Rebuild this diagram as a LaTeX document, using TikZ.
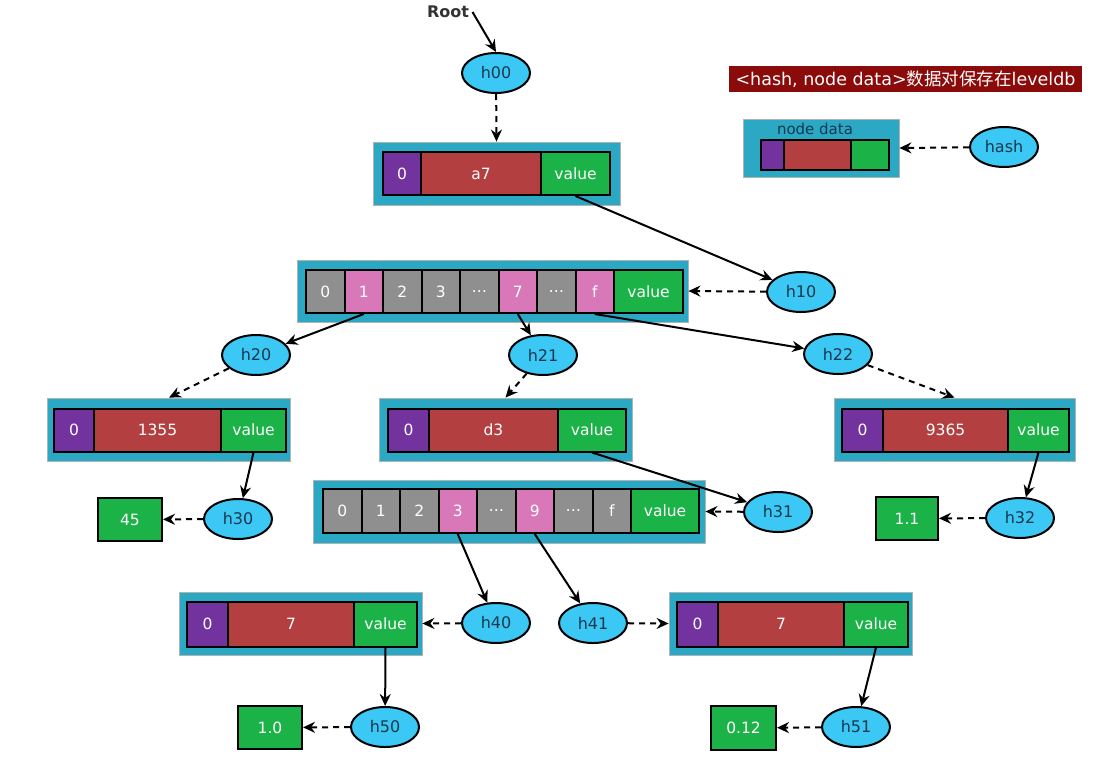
\documentclass[tikz,border=0pt]{standalone}
\usepackage{fontspec}
\setmainfont{DejaVu Sans}
\newfontfamily\cjkfont{Noto Sans CJK SC}
\usetikzlibrary{arrows.meta,shapes.geometric}

\definecolor{boxcyan}{HTML}{2BA8C4}
\definecolor{hashcyan}{HTML}{3CC8F4}
\definecolor{hashtext}{HTML}{17384F}
\definecolor{cellpurple}{HTML}{73339E}
\definecolor{cellred}{HTML}{B43F40}
\definecolor{cellgreen}{HTML}{1BB347}
\definecolor{cellgray}{HTML}{8F8F8F}
\definecolor{cellpink}{HTML}{D978B8}
\definecolor{bannerred}{HTML}{8B0A0A}

\tikzset{
  outerbox/.style={draw=black!30,line width=0.8pt,fill=boxcyan,inner sep=0pt},
  cell/.style={draw=black,line width=2pt,text=white,inner sep=0pt,anchor=west,
    minimum height=43pt,font=\fontsize{15.5}{17}\selectfont},
  hexcell/.style={cell,minimum width=38.5pt},
  leaf/.style={draw=black,line width=2pt,fill=cellgreen,text=white,inner sep=0pt,
    minimum width=64pt,minimum height=43pt,font=\fontsize{15.5}{17}\selectfont},
  hashnode/.style={ellipse,draw=black,line width=2pt,fill=hashcyan,text=hashtext,
    minimum width=68pt,minimum height=40pt,inner sep=0pt,font=\fontsize{16}{18}\selectfont},
  edge/.style={line width=2pt,-{Stealth[length=12pt,width=11pt,inset=4pt]}},
  ptr/.style={edge,dash pattern=on 6pt off 5pt},
}

\begin{document}
\begin{tikzpicture}[x=1pt,y=-1pt]
  \useasboundingbox[fill=white] (0,0) rectangle (1108,758);

  % root
  \node[font=\bfseries\fontsize{16}{18}\selectfont,text=black!80] (root) at (448,12) {Root};
  \node[hashnode] (h00) at (496,73) {h00};

  % level 1
  \node[outerbox,minimum width=247pt,minimum height=63pt] (b1) at (496.5,173.5) {};
  \node[cell,fill=cellpurple,minimum width=38pt] (b1p) at (382,173.5) {0};
  \node[cell,fill=cellred,minimum width=120pt] (b1k) at (420,173.5) {a7};
  \node[cell,fill=cellgreen,minimum width=69pt] (b1v) at (540,173.5) {value};
  \node[hashnode] (h10) at (801,292) {h10};

  % level 2, branch
  \node[outerbox,minimum width=391pt,minimum height=62pt] (b2) at (492.5,291) {};
  \foreach \t/\c [count=\i from 0] in {0/cellgray,1/cellpink,2/cellgray,3/cellgray,
      {\ldots}/cellgray,7/cellpink,{\ldots}/cellgray,f/cellpink}
    \node[hexcell,fill=\c] (b2c\i) at ({305+38.5*\i},291.5) {\t};
  \node[cell,fill=cellgreen,minimum width=69pt] (b2v) at (613,291.5) {value};
  \node[hashnode] (h20) at (256,355) {h20};
  \node[hashnode] (h21) at (543,355) {h21};
  \node[hashnode] (h22) at (838,354) {h22};

  % level 3
  \node[outerbox,minimum width=243pt,minimum height=63pt] (b3) at (169,429.5) {};
  \node[cell,fill=cellpurple,minimum width=40pt] (b3p) at (53,430) {0};
  \node[cell,fill=cellred,minimum width=127pt] (b3k) at (93,430) {1355};
  \node[cell,fill=cellgreen,minimum width=65pt] (b3v) at (220,430) {value};

  \node[outerbox,minimum width=253pt,minimum height=63pt] (b4) at (505.5,429.5) {};
  \node[cell,fill=cellpurple,minimum width=41pt] (b4p) at (387,430) {0};
  \node[cell,fill=cellred,minimum width=129pt] (b4k) at (428,430) {d3};
  \node[cell,fill=cellgreen,minimum width=68pt] (b4v) at (557,430) {value};

  \node[outerbox,minimum width=241pt,minimum height=63pt] (b5) at (954.5,429.5) {};
  \node[cell,fill=cellpurple,minimum width=41pt] (b5p) at (841,430) {0};
  \node[cell,fill=cellred,minimum width=125pt] (b5k) at (882,430) {9365};
  \node[cell,fill=cellgreen,minimum width=61pt] (b5v) at (1007,430) {value};

  \node[hashnode] (h30) at (238,519) {h30};
  \node[hashnode] (h31) at (778,512) {h31};
  \node[hashnode] (h32) at (1020,518) {h32};
  \node[leaf] (l45) at (130,519.5) {45};
  \node[leaf,minimum width=62pt] (l11) at (907,518.5) {1.1};

  % level 4, branch
  \node[outerbox,minimum width=392pt,minimum height=63pt] (b6) at (509,511.5) {};
  \foreach \t/\c [count=\i from 0] in {0/cellgray,1/cellgray,2/cellgray,3/cellpink,
      {\ldots}/cellgray,9/cellpink,{\ldots}/cellgray,f/cellgray}
    \node[hexcell,fill=\c,minimum height=44pt] (b6c\i) at ({322+38.5*\i},511) {\t};
  \node[cell,fill=cellgreen,minimum width=68pt,minimum height=44pt] (b6v) at (630,511) {value};
  \node[hashnode] (h40) at (496,623) {h40};
  \node[hashnode] (h41) at (593,623) {h41};

  % level 5
  \node[outerbox,minimum width=243pt,minimum height=63pt] (b7) at (300.5,623.5) {};
  \node[cell,fill=cellpurple,minimum width=41pt,minimum height=45pt] (b7p) at (186,624) {0};
  \node[cell,fill=cellred,minimum width=126pt,minimum height=45pt] (b7k) at (227,624) {7};
  \node[cell,fill=cellgreen,minimum width=63pt,minimum height=45pt] (b7v) at (353,624) {value};

  \node[outerbox,minimum width=243pt,minimum height=63pt] (b8) at (790.5,623.5) {};
  \node[cell,fill=cellpurple,minimum width=41pt,minimum height=45pt] (b8p) at (676,624) {0};
  \node[cell,fill=cellred,minimum width=126pt,minimum height=45pt] (b8k) at (717,624) {7};
  \node[cell,fill=cellgreen,minimum width=64pt,minimum height=45pt] (b8v) at (843,624) {value};

  \node[hashnode] (h50) at (385,727) {h50};
  \node[hashnode] (h51) at (856,727) {h51};
  \node[leaf] (l10) at (270,727.5) {1.0};
  \node[leaf,minimum width=65pt,minimum height=44pt] (l012) at (743.5,728) {0.12};

  % legend
  \node[fill=bannerred,text=white,inner sep=0pt,minimum width=353pt,minimum height=26pt,
    font=\fontsize{17.5}{19}\selectfont] (banner) at (905.5,79)
    {<hash, node data>{\cjkfont 数据对保存在}leveldb};
  \node[outerbox,minimum width=156pt,minimum height=58pt] (lg) at (821,148) {};
  \node[text=hashtext,inner sep=0pt,font=\fontsize{15}{17}\selectfont] (lgtitle) at (815,129) {node data};
  \node[cell,fill=cellpurple,minimum width=23pt,minimum height=30pt] (lgp) at (760,155) {};
  \node[cell,fill=cellred,minimum width=67pt,minimum height=30pt] (lgk) at (783,155) {};
  \node[cell,fill=cellgreen,minimum width=38pt,minimum height=30pt] (lgv) at (850,155) {};
  \node[hashnode] (hash) at (1004,147) {hash};

  % connectors
  \draw[edge] (root.east) -- (h00.north);
  \draw[ptr] (h00) -- (b1.north);
  \draw[edge] (b1v.south) -- (h10);
  \draw[ptr] (h10) -- (b2.east);
  \draw[edge] (b2c1.south) -- (h20);
  \draw[edge] (b2c5.south) -- (h21);
  \draw[edge] (b2c7.south) -- (h22);
  \draw[ptr] (h20) -- (b3.north);
  \draw[ptr] (h21) -- (b4.north);
  \draw[ptr] (h22) -- (b5.north);
  \draw[edge] (b3v.south) -- (h30);
  \draw[ptr] (h30) -- (l45);
  \draw[edge] (b4v.south) -- (h31);
  \draw[ptr] (h31) -- (b6.east);
  \draw[edge] (b5v.south) -- (h32);
  \draw[ptr] (h32) -- (l11);
  \draw[edge] (b6c3.south) -- (h40);
  \draw[edge] (b6c5.south) -- (h41);
  \draw[ptr] (h40) -- (b7.east);
  \draw[ptr] (h41) -- (b8.west);
  \draw[edge] (b7v.south) -- (h50);
  \draw[edge] (b8v.south) -- (h51);
  \draw[ptr] (h50) -- (l10);
  \draw[ptr] (h51) -- (l012);
  \draw[ptr] (hash) -- (lg.east);
\end{tikzpicture}
\end{document}
